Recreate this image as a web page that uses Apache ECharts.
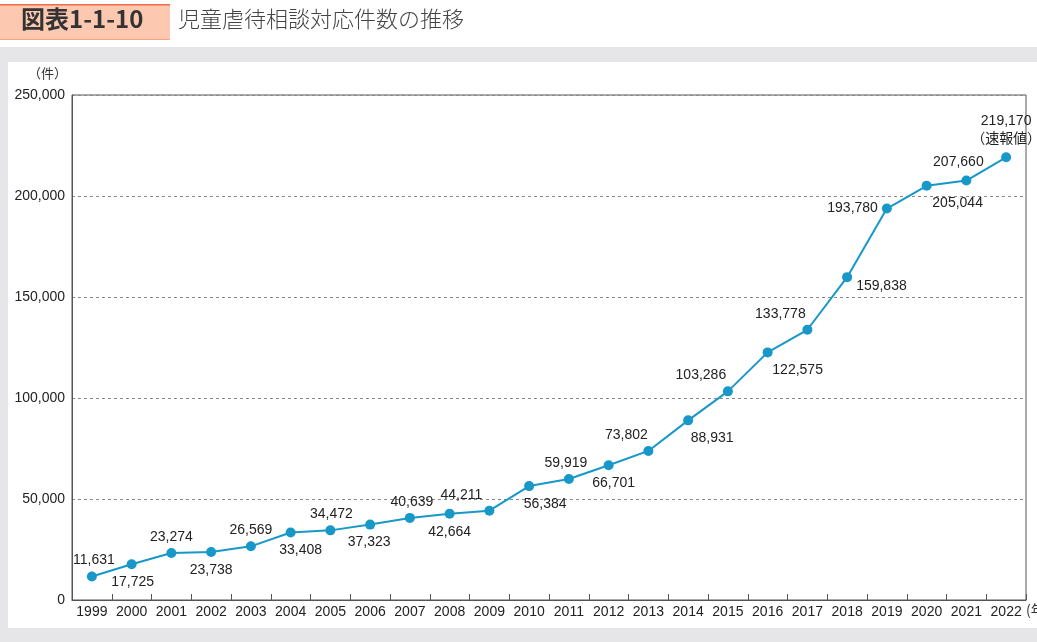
<!DOCTYPE html>
<html>
<head>
<meta charset="utf-8">
<script src="https://cdn.jsdelivr.net/npm/echarts@6/dist/echarts.min.js"></script>
<style>
html,body{margin:0;padding:0;background:#fff;}
#c{width:1037px;height:642px;}
</style>
</head>
<body>
<div id="c"></div>
<script>
const years = ['1999','2000','2001','2002','2003','2004','2005','2006','2007','2008','2009','2010','2011','2012','2013','2014','2015','2016','2017','2018','2019','2020','2021','2022'];
const cases = [11631,17725,23274,23738,26569,33408,34472,37323,40639,42664,44211,56384,59919,66701,73802,88931,103286,122575,133778,159838,193780,205044,207660,219170];
const yTicks = [0,50000,100000,150000,200000,250000];
const titleTag = '図表1-1-10';
const titleText = '児童虐待相談対応件数の推移';
const yUnit = '（件）';
const xUnit = '(年';
const provisionalNote = '（速報値）';

// label placement per point: [position, dx, dy]
const labelPlace = [
  ['top',2,2],['bottom',1,0],['top',0,2],['bottom',0,0],['top',0,2],['bottom',10,0],
  ['top',1,2],['bottom',-1,0],['top',2,2],['bottom',0,0],['top',-28,2],['bottom',16,0],
  ['top',-3,2],['bottom',5,0],['top',-22,2],['bottom',24,0],['top',-27,2],['bottom',30,0],
  ['top',-27,2],['right',0,9],['left',0,0],['bottom',31,-1],['top',-8,0],['top',0,0]
];

const fmt = v => v.toLocaleString('en-US');
const seriesData = cases.map((v,i)=>{
  const p = labelPlace[i];
  const isLast = i === cases.length-1;
  return {
    value: v,
    label: {
      position: p[0],
      offset: [p[1], p[2]],
      formatter: isLast ? (fmt(v) + '\n' + provisionalNote) : fmt(v),
      lineHeight: 18
    }
  };
});

const chart = echarts.init(document.getElementById('c'), null, {renderer:'canvas'});
const fontEn = "'Liberation Sans', Arial, sans-serif";
chart.setOption({
  backgroundColor: '#ffffff',
  animation: false,
  graphic: [
    {type:'rect', z:-10, shape:{x:0,y:47,width:1037,height:595}, style:{fill:'#e6e6e8'}},
    {type:'rect', z:-9, shape:{x:8,y:62,width:1029,height:566}, style:{fill:'#ffffff'}},
    {type:'rect', shape:{x:0,y:4,width:170,height:36}, style:{fill:'#fcc8b0'}},
    {type:'rect', shape:{x:0,y:4,width:170,height:1.5}, style:{fill:'#ee6a48'}},
    {type:'rect', shape:{x:0,y:39,width:170,height:1}, style:{fill:'#f4a486'}},
    {type:'text', left:21, top:7, style:{text:titleTag, font:"bold 24px 'Noto Sans CJK JP', sans-serif", fill:'#333'}},
    {type:'text', left:178, top:8, style:{text:titleText, font:"300 22px 'Noto Sans CJK JP', sans-serif", fill:'#444'}},
    {type:'text', left:28, top:67, style:{text:yUnit, font:"13px 'Noto Sans CJK JP', sans-serif", fill:'#333'}},
    {type:'text', left:1026, top:603, style:{text:xUnit, font:"14px 'Noto Sans CJK JP', sans-serif", fill:'#333'}}
  ],
  grid: {left:72, right:11, top:95, bottom:42, show:true, borderColor:'#555', borderWidth:1, backgroundColor:'transparent'},
  xAxis: {
    type:'category',
    data: years,
    boundaryGap: true,
    axisLine:{lineStyle:{color:'#555',width:1}},
    axisTick:{show:true, inside:true, length:6, interval:0, lineStyle:{color:'#555'}},
    axisLabel:{color:'#222', fontSize:14, fontFamily:fontEn, margin:5, interval:0}
  },
  yAxis: {
    type:'value',
    min: yTicks[0],
    max: yTicks[yTicks.length-1],
    interval: yTicks[1]-yTicks[0],
    axisLine:{show:true, lineStyle:{color:'#555',width:1}},
    axisTick:{show:false},
    axisLabel:{color:'#222', fontSize:14, fontFamily:fontEn, margin:7, formatter: v=>fmt(v)},
    splitLine:{show:true, lineStyle:{color:'#888', type:[3,3], width:1}}
  },
  series: [{
    type:'line',
    data: seriesData,
    symbol:'circle',
    symbolSize:10,
    lineStyle:{color:'#1798c8', width:2},
    itemStyle:{color:'#1798c8'},
    label:{show:true, color:'#222', fontSize:14, fontFamily:"'Liberation Sans', Arial, 'Noto Sans CJK JP', sans-serif", distance:4}
  }]
});
</script>
</body>
</html>
